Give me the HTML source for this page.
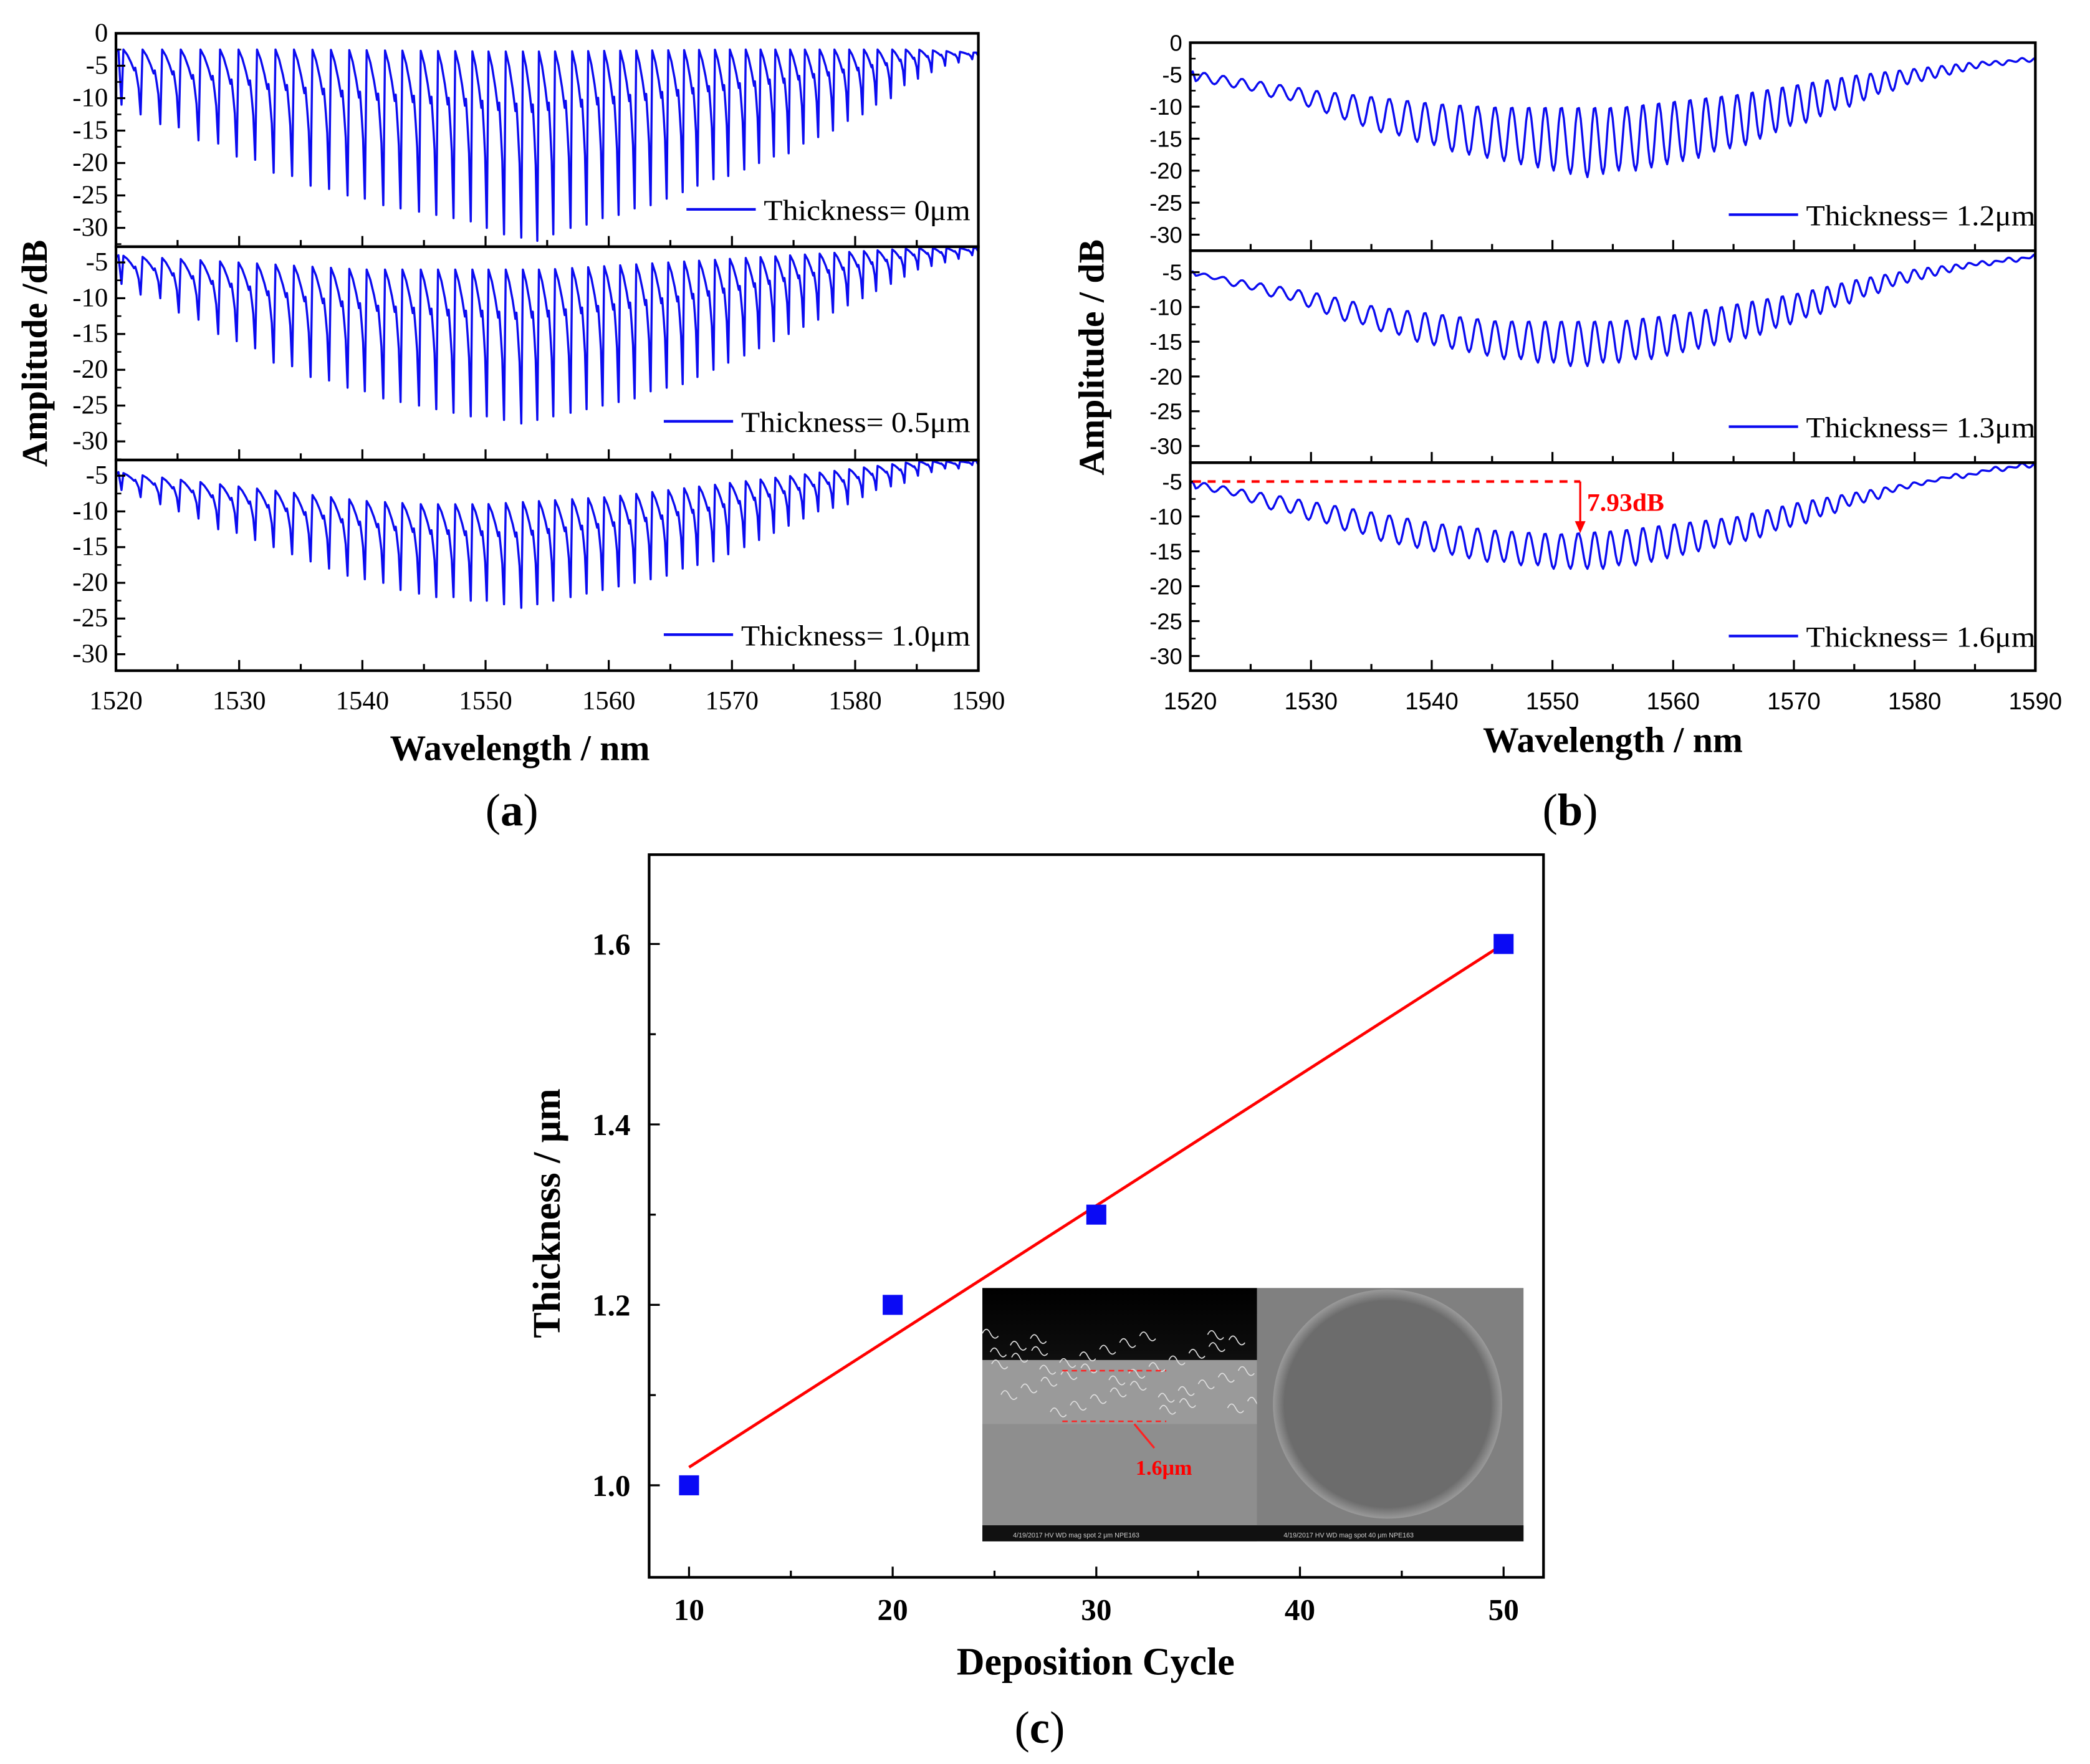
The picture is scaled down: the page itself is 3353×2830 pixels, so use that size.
<!DOCTYPE html>
<html><head><meta charset="utf-8"><style>
html,body{margin:0;padding:0;background:#fff;}
svg{display:block;}
</style></head><body>
<svg id="fig" width="3353" height="2830" viewBox="0 0 1568 1323" preserveAspectRatio="none" font-family="'Liberation Serif', serif" xmlns="http://www.w3.org/2000/svg">
<defs>
<linearGradient id="semTop" x1="0" y1="0" x2="0" y2="1"><stop offset="0" stop-color="#000"/><stop offset="1" stop-color="#333"/></linearGradient>
<radialGradient id="fib" cx="0.5" cy="0.5" r="0.5"><stop offset="0.9" stop-color="#6c6c6c"/><stop offset="1" stop-color="#9a9a9a"/></radialGradient>
</defs>
<g id="root"></g>
</svg>
<script>
// ---------- data ----------
const dipWavelengths=[1520.45,1522.0,1523.6,1525.1,1526.7,1528.3,1529.8,1531.3,1532.8,1534.3,1535.8,1537.3,1538.8,1540.2,1541.7,1543.1,1544.6,1546.0,1547.4,1548.8,1550.1,1551.5,1552.9,1554.2,1555.5,1556.9,1558.2,1559.5,1560.8,1562.1,1563.4,1564.7,1566.0,1567.2,1568.5,1569.7,1571.0,1572.2,1573.4,1574.6,1575.8,1577.0,1578.2,1579.4,1580.6,1581.7,1582.9,1584.0,1585.1,1586.2,1587.3,1588.4,1589.5];
const peakWavelengths=[1520,1525,1530,1535,1540,1545,1550,1555,1560,1565,1570,1575,1580,1585,1590];
const dipsA0=[-11,-12.5,-14,-14.5,-16.5,-17,-19,-19.5,-21.5,-22,-23.5,-24,-25,-25.5,-26.5,-27,-27.5,-28,-28.5,-29,-30,-31,-31.5,-32,-31,-30,-29.5,-28.5,-28,-27,-26.5,-25.5,-24.5,-23.5,-22.5,-22,-21,-20,-19,-18.5,-17,-16,-15,-13.5,-12.5,-11,-10,-8,-7,-6,-5,-4.5,-4];
const peaksA0=[-2.5,-2.5,-2.5,-2.5,-2.6,-2.7,-2.8,-2.8,-2.7,-2.6,-2.5,-2.5,-2.5,-2.5,-3];
const dipsA05=[-8,-9.5,-10,-12,-13,-15,-16,-17,-19,-19.5,-21,-21.5,-22.5,-23,-24,-24.5,-25,-25.5,-26,-26.5,-26.5,-27,-27.5,-27,-26.5,-26,-25.5,-25,-24.5,-24,-23,-22.5,-22,-21,-20,-19,-18,-17,-16,-15,-14,-13,-12,-11,-10,-9,-8,-7,-6,-5.5,-5,-4.5,-4];
const peaksA05=[-4,-4.5,-5,-5.5,-6,-6,-6,-6,-5.5,-5,-4.5,-4,-3.5,-3,-3];
const dipsA10=[-7,-8,-9,-10,-11,-12.5,-13,-14,-15,-16,-17,-18,-19,-19.5,-20,-21,-21.5,-22,-22,-22.5,-22.5,-23,-23.5,-23,-22.5,-22,-21.5,-21,-20.5,-20,-19.5,-19,-18,-17.5,-17,-16,-15,-14,-13,-12,-11,-10,-9.5,-9,-8,-7,-6.5,-6,-5,-4.5,-4,-4,-3.5];
const peaksA10=[-4.5,-5.5,-6.5,-7.5,-8.5,-9,-9,-8.5,-8,-7,-6,-5,-4,-3,-3];
const dipsB12=[-6,-6.5,-7,-7.5,-8.5,-9,-10,-11,-12,-13,-14,-14.5,-15.5,-16,-17,-17.5,-18,-18.5,-19,-19.5,-20,-20.5,-21,-20.5,-20,-20,-19.5,-19,-18.5,-18,-17,-16.5,-16,-15,-14,-13,-12.5,-11.5,-10.5,-10,-9,-8,-7.5,-6.5,-6,-5.5,-5,-4.5,-4,-3.5,-3.5,-3,-3];
const peaksB12=[-4.5,-6,-7.5,-8.5,-9.5,-10,-10,-10,-9,-8,-6.5,-5,-4,-3,-2.5];
const dipsB13=[-5.5,-6,-7,-7.5,-8.5,-9,-10,-11,-12,-12.5,-13.5,-14,-15,-15.5,-16,-16.5,-17,-17.5,-17.5,-18,-18,-18.5,-18.5,-18,-18,-17.5,-17.5,-17,-16.5,-16,-15.5,-15,-14.5,-14,-13,-12.5,-11.5,-11,-10,-9.5,-8.5,-8,-7,-6.5,-6,-5.5,-5,-4.5,-4,-4,-3.5,-3.5,-3];
const peaksB13=[-5,-6.5,-8,-10,-11,-12,-12,-12,-11,-9.5,-8,-6,-4.5,-3.5,-3];
const dipsB16=[-6,-6.5,-7,-8,-9,-9.5,-10.5,-11,-12,-12.5,-13.5,-14,-14.5,-15,-15.5,-16,-16.5,-16.5,-17,-17,-17.5,-17.5,-17.5,-17.5,-17,-17,-16.5,-16,-15.5,-15,-14.5,-14,-13.5,-13,-12,-11.5,-11,-10,-9.5,-8.5,-8,-7.5,-6.5,-6,-5.5,-5,-4.5,-4.5,-4,-3.5,-3.5,-3,-3];
const peaksB16=[-5,-6.5,-8,-9.5,-11,-12,-12.5,-12,-11,-10,-8,-6.5,-5,-4,-3];
const cycles=[10,20,30,40,50];
const thickness=[1.0,1.2,1.3,null,1.6];
const fitStart=[10,1.02];
const fitEnd=[50,1.6];
const xTickLabels=["1520","1530","1540","1550","1560","1570","1580","1590"];
const cTickX=["10","20","30","40","50"];
const cTickY=["1.0","1.2","1.4","1.6"];

// ---------- helpers ----------
const NS="http://www.w3.org/2000/svg";
const root=document.getElementById('root');
function el(tag,attrs,parent,txt){const e=document.createElementNS(NS,tag);for(const k in attrs)e.setAttribute(k,attrs[k]);if(txt!==undefined)e.textContent=txt;(parent||root).appendChild(e);return e;}
function peakAt(arr,l){if(l<=peakWavelengths[0])return arr[0];for(let i=0;i<peakWavelengths.length-1;i++){if(l<=peakWavelengths[i+1]){const t=(l-peakWavelengths[i])/(peakWavelengths[i+1]-peakWavelengths[i]);return arr[i]+t*(arr[i+1]-arr[i]);}}return arr[arr.length-1];}
const SERIF="'Liberation Serif', serif", SANS="'Liberation Sans', sans-serif";

function panel(name,x0,x1,y0,y1,yTop,yBot,yTicks,dips,peaks,style,legend,legX,legY,sans,showX){
  const g=el('g',{});
  
  
  const sx=l=>x0+(l-1520)/70*(x1-x0);
  const sy=v=>y0+(yTop-v)/(yTop-yBot)*(y1-y0);
  let pts=[];
  const clampPk=(pk,d)=>Math.max(pk,d+0.6);
  let pk0=clampPk(peakAt(peaks,1520),dips[0]);
  pts.push([1520,pk0-0.3]);pts.push([1520.2,pk0]);
  for(let i=0;i<dips.length;i++){
    const l=dipWavelengths[i],d=dips[i];
    const ln=i<dips.length-1?dipWavelengths[i+1]:l+1.1;
    const dn=i<dips.length-1?dips[i+1]:null;
    const p=ln-l;
    pts.push([l,d]);
    const pk=clampPk(peakAt(peaks,l+0.15*p),Math.min(d,dn===null?d:dn));
    const tgt=dn===null?pk:dn;
    if(style==='saw'){
      const seg=[[0.1,pk],[0.3,pk-0.08*(pk-tgt)],[0.5,pk-0.2*(pk-tgt)],[0.66,pk-0.32*(pk-tgt)],[0.72,pk-0.28*(pk-tgt)],[0.82,pk-0.45*(pk-tgt)],[0.9,pk-0.6*(pk-tgt)]];
      for(const s of seg){const ll=l+s[0]*p;if(ll<=1590)pts.push([ll,s[1]]);}
    }else{
      for(let k=1;k<10;k++){const t=k/10;const ll=l+t*p;if(ll>1590)break;
        const base=t<0.45?d+(pk-d)*(1-Math.cos(Math.PI*t/0.45))/2:pk+(tgt-pk)*(1-Math.cos(Math.PI*(t-0.45)/0.55))/2;
        pts.push([ll,base]);}
    }
  }
  pts=pts.filter(p=>p[0]<=1590);
  pts.push([1590,peakAt(peaks,1590)-0.5]);
  const dstr=pts.map((p,i)=>(i?'L':'M')+sx(p[0]).toFixed(2)+','+Math.max(y0,Math.min(y1,sy(p[1]))).toFixed(2)).join('');
  const path=el('path',{d:dstr,fill:'none',stroke:'#0b0bf0','stroke-width':1.6,'stroke-linejoin':'round'},g);
  
  
  const fr=el('rect',{x:x0,y:y0,width:x1-x0,height:y1-y0,fill:'none',stroke:'#000','stroke-width':2},g);
  
  
  for(const v of yTicks){
    const y=sy(v);
    el('line',{x1:x0,y1:y,x2:x0+7,y2:y,stroke:'#000','stroke-width':1.5},g);
    const t=el('text',{x:x0-6,y:y+6,'text-anchor':'end','font-size':sans?17:20,'font-family':sans?SANS:SERIF},g,String(v));
    
    
    const vm=v-2.5;if(vm>yBot){const ym=sy(vm);el('line',{x1:x0,y1:ym,x2:x0+4,y2:ym,stroke:'#000','stroke-width':1.2},g);}
  }
  for(let l=1520;l<=1590;l+=5){const x=sx(l);const major=(l%10===0);el('line',{x1:x,y1:y1,x2:x,y2:y1-(major?8:5),stroke:'#000','stroke-width':1.5},g);}
  if(showX){
    xTickLabels.forEach(s=>{const t=el('text',{x:sx(+s),y:y1+29,'text-anchor':'middle','font-size':sans?18:20,'font-family':sans?SANS:SERIF},g,s);
      
      });
  }
  const lg=el('g',{},g);
  
  
  el('line',{x1:legX,y1:legY,x2:legX+52,y2:legY,stroke:'#0b0bf0','stroke-width':2},lg);
  el('text',{x:legX+58,y:legY+8,'font-size':22,'font-family':SERIF,textLength:legend.length>15?172:155,lengthAdjust:'spacingAndGlyphs'},lg,legend);
  return {sx,sy,g};
}

panel('panel-a-0um',87,734,25,185,0,-32.9,[0,-5,-10,-15,-20,-25,-30],dipsA0,peaksA0,'saw','Thickness= 0μm',515,157,false,false);
panel('panel-a-05um',87,734,185,345,-2.8,-32.6,[-5,-10,-15,-20,-25,-30],dipsA05,peaksA05,'saw','Thickness= 0.5μm',498,316,false,false);
panel('panel-a-10um',87,734,345,503,-2.8,-32.3,[-5,-10,-15,-20,-25,-30],dipsA10,peaksA10,'saw','Thickness= 1.0μm',498,476,false,true);
panel('panel-b-12um',893,1527,32,188,0,-32.5,[0,-5,-10,-15,-20,-25,-30],dipsB12,peaksB12,'sin','Thickness= 1.2μm',1297,161,true,false);
panel('panel-b-13um',893,1527,188,347,-1.9,-32.4,[-5,-10,-15,-20,-25,-30],dipsB13,peaksB13,'sin','Thickness= 1.3μm',1297,320,true,false);
const pb3=panel('panel-b-16um',893,1527,347,503,-2.3,-32.1,[-5,-10,-15,-20,-25,-30],dipsB16,peaksB16,'sin','Thickness= 1.6μm',1297,477,true,true);
(function(){
  const g=el('g',{});
  
  
  const ya=pb3.sy(-5),yb=pb3.sy(-12.4),xa=pb3.sx(1552.3);
  el('line',{x1:895,y1:ya,x2:xa,y2:ya,stroke:'#f00','stroke-width':2,'stroke-dasharray':'6,5'},g);
  el('line',{x1:xa,y1:ya,x2:xa,y2:yb-7,stroke:'#f00','stroke-width':1.5},g);
  el('path',{d:`M${xa-4},${yb-9}L${xa+4},${yb-9}L${xa},${yb}Z`,fill:'#f00'},g);
  el('text',{x:xa+5,y:ya+22,'font-size':19,'font-weight':'bold',fill:'#f00',textLength:58,lengthAdjust:'spacingAndGlyphs'},g,'7.93dB');
})();

function T(name,attrs,txt){const t=el('text',attrs,root,txt);return t;}
T('panel-a-y-axis-title',{x:0,y:0,transform:'translate(35,265) rotate(-90)','text-anchor':'middle','font-size':27,'font-weight':'bold'},'Amplitude /dB');
T('panel-b-y-axis-title',{x:0,y:0,transform:'translate(828,268) rotate(-90)','text-anchor':'middle','font-size':27,'font-weight':'bold'},'Amplitude / dB');
T('panel-a-x-axis-title',{x:390,y:570,'text-anchor':'middle','font-size':27,'font-weight':'bold'},'Wavelength / nm');
T('panel-b-x-axis-title',{x:1210,y:564,'text-anchor':'middle','font-size':27,'font-weight':'bold'},'Wavelength / nm');
const ca=T('caption-a',{x:384,y:619,'text-anchor':'middle','font-size':34},'');
ca.innerHTML='(<tspan font-weight="bold">a</tspan>)';
const cb=T('caption-b',{x:1178,y:619,'text-anchor':'middle','font-size':34},'');
cb.innerHTML='(<tspan font-weight="bold">b</tspan>)';
const cc=T('caption-c',{x:780,y:1307,'text-anchor':'middle','font-size':34},'');
cc.innerHTML='(<tspan font-weight="bold">c</tspan>)';

(function(){
  const x0=487,x1=1158,y0=641,y1=1183;
  const sx=v=>x0+(v-8.04)/(51.96-8.04)*(x1-x0);
  const sy=v=>y1-(v-0.898)/(1.699-0.898)*(y1-y0);
  const g=el('g',{});
  
  
  const fr=el('rect',{x:x0,y:y0,width:x1-x0,height:y1-y0,fill:'none',stroke:'#000','stroke-width':2},g);
  
  
  for(let v=1.0;v<=1.65;v+=0.1){const y=sy(v);const maj=Math.round(v*10)%2===0;el('line',{x1:x0,y1:y,x2:x0+(maj?8:5),y2:y,stroke:'#000','stroke-width':1.5},g);}
  cTickY.forEach(s=>{const t=el('text',{x:x0-14,y:sy(+s)+8,'text-anchor':'end','font-size':23,'font-weight':'bold'},g,s);
    
    });
  for(let v=10;v<=50;v+=5){const x=sx(v);el('line',{x1:x,y1:y1,x2:x,y2:y1-(v%10===0?8:5),stroke:'#000','stroke-width':1.5},g);}
  cTickX.forEach(s=>{const t=el('text',{x:sx(+s),y:y1+32,'text-anchor':'middle','font-size':23,'font-weight':'bold'},g,s);
    
    });
  const ins=el('g',{},g);
  
  
  el('rect',{x:737,y:966,width:206,height:190,fill:'url(#semTop)'},ins);
  el('rect',{x:737,y:1020,width:206,height:50,fill:'#9a9a9a'},ins);
  for(let i=0;i<40;i++){const xx=737+((i*37)%200);const yy=1000+((i*13)%60);el('path',{d:`M${xx},${yy}q3,-6 6,0 t6,2`,stroke:'#ddd','stroke-width':0.8,fill:'none'},ins);}
  el('rect',{x:737,y:1068,width:206,height:76,fill:'#8e8e8e'},ins);
  el('rect',{x:943,y:966,width:200,height:190,fill:'#808080'},ins);
  el('circle',{cx:1041,cy:1053,r:86,fill:'url(#fib)'},ins);
  el('rect',{x:737,y:1144,width:406,height:12,fill:'#111'},ins);
  el('text',{x:760,y:1153,'font-size':5,fill:'#ccc','font-family':SANS},ins,'4/19/2017  HV  WD  mag  spot   2 μm   NPE163');
  el('text',{x:963,y:1153,'font-size':5,fill:'#ccc','font-family':SANS},ins,'4/19/2017  HV  WD  mag  spot   40 μm   NPE163');
  el('line',{x1:797,y1:1028,x2:875,y2:1028,stroke:'#f22','stroke-width':1.2,'stroke-dasharray':'4,3'},ins);
  el('line',{x1:797,y1:1066,x2:875,y2:1066,stroke:'#f22','stroke-width':1.2,'stroke-dasharray':'4,3'},ins);
  el('line',{x1:851,y1:1068,x2:866,y2:1086,stroke:'#f22','stroke-width':1.5},ins);
  el('text',{x:852,y:1106,'font-size':16,'font-weight':'bold',fill:'#f00'},ins,'1.6μm');
  const fit=el('line',{x1:sx(fitStart[0]),y1:sy(fitStart[1]),x2:sx(fitEnd[0]),y2:sy(fitEnd[1]),stroke:'#f00','stroke-width':2.2},g);
  
  
  cycles.forEach((c,i)=>{if(thickness[i]===null)return;
    const r=el('rect',{x:sx(c)-7.5,y:sy(thickness[i])-7.5,width:15,height:15,fill:'#0a0af5'},g);
    
    });
  T('panel-c-y-axis-title',{x:0,y:0,transform:'translate(420,910) rotate(-90)','text-anchor':'middle','font-size':29,'font-weight':'bold'},'Thickness / μm');
  T('panel-c-x-axis-title',{x:822,y:1256,'text-anchor':'middle','font-size':29,'font-weight':'bold'},'Deposition Cycle');
})();
</script>
</body></html>
